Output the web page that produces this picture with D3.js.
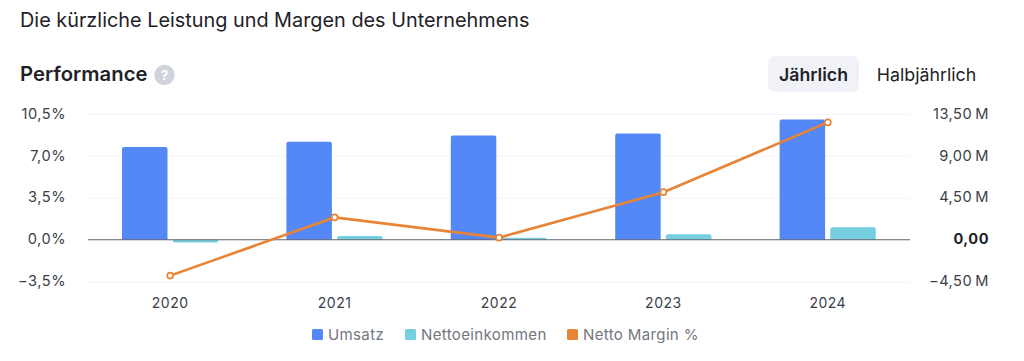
<!DOCTYPE html>
<html><head><meta charset="utf-8">
<script src="https://cdn.jsdelivr.net/npm/d3@7"></script>
<style>
html,body{margin:0;padding:0;background:#fff;overflow:hidden}
svg{display:block}
text{font-family:Inter,"Noto Sans",sans-serif}
</style></head><body>
<svg id="c" width="1024" height="361"></svg>
<script>
const categories=["2020","2021","2022","2023","2024"];
const umsatz=[9.95,10.52,11.18,11.4,12.9];
const nettoeinkommen=[-0.3,0.4,0.2,0.58,1.35];
const marginPct=[-3.0,1.86,0.17,3.97,9.8];
const leftTicks=[-3.5,0,3.5,7,10.5];
const rightTicks=[-4.5,0,4.5,9,13.5];
const legendLabels=["Umsatz","Nettoeinkommen","Netto Margin %"];
const colors={u:"#5588f7",n:"#76cfe0",m:"#e78436"};

const svg=d3.select("#c");
const x=d3.scaleBand().domain(categories).range([88,910]);
const yL=d3.scaleLinear().domain([-3.5,10.5]).range([281.6,114]);
const yR=d3.scaleLinear().domain([-4.5,13.5]).range([281.6,114]);
const de=v=>v.toFixed(1).replace(".",",");
const de2=v=>Math.abs(v).toFixed(2).replace(".",",");

// titles
svg.append("text").attr("x",20).attr("y",26.5).attr("font-size",19.85).attr("fill","#1f2229").text("Die kürzliche Leistung und Margen des Unternehmens");
svg.append("text").attr("x",20).attr("y",81).attr("font-size",20.3).attr("font-weight",600).attr("fill","#1f2229").text("Performance");
svg.append("circle").attr("cx",164.5).attr("cy",75).attr("r",10.2).attr("fill","#d0d3db");
svg.append("text").attr("x",164.5).attr("y",80).attr("text-anchor","middle").attr("font-size",13.5).attr("font-weight",700).attr("fill","#fff").text("?");

// toggle
svg.append("rect").attr("x",768).attr("y",56).attr("width",91).attr("height",36).attr("rx",7).attr("fill","#f1f2f7");
svg.append("text").attr("x",813.5).attr("y",80.5).attr("text-anchor","middle").attr("font-size",17.7).attr("font-weight",600).attr("fill","#1f2229").text("Jährlich");
svg.append("text").attr("x",926.5).attr("y",80.5).attr("text-anchor","middle").attr("font-size",17.8).attr("fill","#1f2229").text("Halbjährlich");

// grid
svg.append("g").selectAll("line").data(leftTicks.filter(d=>d!==0)).join("line")
 .attr("x1",88).attr("x2",910).attr("y1",d=>yL(d)+.5).attr("y2",d=>yL(d)+.5)
 .attr("stroke","#f3f3f9").attr("stroke-width",1);

// axes labels
svg.append("g").selectAll("text").data(leftTicks).join("text")
 .attr("x",66).attr("y",d=>yL(d)+4.6).attr("text-anchor","end").attr("font-size",14.6).attr("letter-spacing",.5).attr("fill","#3b3e47")
 .text(d=>(d<0?"−"+de(-d):de(d))+"%");
svg.append("g").selectAll("text").data(rightTicks).join("text")
 .attr("x",989).attr("y",d=>yR(d)+4.6).attr("text-anchor","end").attr("font-size",14.6).attr("letter-spacing",.5)
 .attr("font-weight",d=>d===0?700:400).attr("fill",d=>d===0?"#1f2229":"#3b3e47")
 .text(d=>d===0?"0,00":(d<0?"−":"")+de2(d)+"\u2009M");
svg.append("g").selectAll("text").data(categories).join("text")
 .attr("x",d=>x(d)+x.bandwidth()/2).attr("y",308).attr("text-anchor","middle").attr("font-size",14).attr("letter-spacing",.5).attr("fill","#3b3e47").text(d=>d);

// bars
const bw=45.5;
const barPath=(x0,v,y0,w)=>{
 const y1=yR(v), r=Math.min(2,Math.abs(y1-y0)), dir=v>=0?1:-1;
 return `M${x0},${y0}V${y1+dir*r}Q${x0},${y1} ${x0+r},${y1}H${x0+w-r}Q${x0+w},${y1} ${x0+w},${y1+dir*r}V${y0}Z`;
};
svg.append("g").selectAll("path").data(categories).join("path")
 .attr("d",(d,i)=>barPath(x(d)+x.bandwidth()/2-48.2,umsatz[i],yR(0),bw)).attr("fill",colors.u);
svg.append("g").selectAll("path").data(categories).join("path")
 .attr("d",(d,i)=>barPath(x(d)+x.bandwidth()/2+2.5,nettoeinkommen[i],yR(0),bw)).attr("fill",colors.n);

// zero line
svg.append("line").attr("x1",88).attr("x2",910).attr("y1",yL(0)).attr("y2",yL(0)).attr("stroke","#5f616c").attr("stroke-width",1.1);

// margin line
const line=d3.line().x((d,i)=>x(categories[i])+x.bandwidth()/2).y(d=>yL(d));
svg.append("path").attr("d",line(marginPct)).attr("fill","none").attr("stroke",colors.m).attr("stroke-width",2.6);
svg.append("g").selectAll("circle").data(marginPct).join("circle")
 .attr("cx",(d,i)=>x(categories[i])+x.bandwidth()/2).attr("cy",d=>yL(d)).attr("r",3).attr("fill","#fff").attr("stroke",colors.m).attr("stroke-width",1.7);

// legend
const legendX=[312,405,567],legendC=[colors.u,colors.n,colors.m];
const lg=svg.append("g").selectAll("g").data(legendLabels).join("g").attr("transform",(d,i)=>`translate(${legendX[i]},329)`);
lg.append("rect").attr("width",11).attr("height",11).attr("rx",1.5).attr("fill",(d,i)=>legendC[i]);
lg.append("text").attr("x",16).attr("y",10.5).attr("font-size",15.05).attr("letter-spacing",.35).attr("fill","#74767f").text(d=>d);
</script></body></html>
